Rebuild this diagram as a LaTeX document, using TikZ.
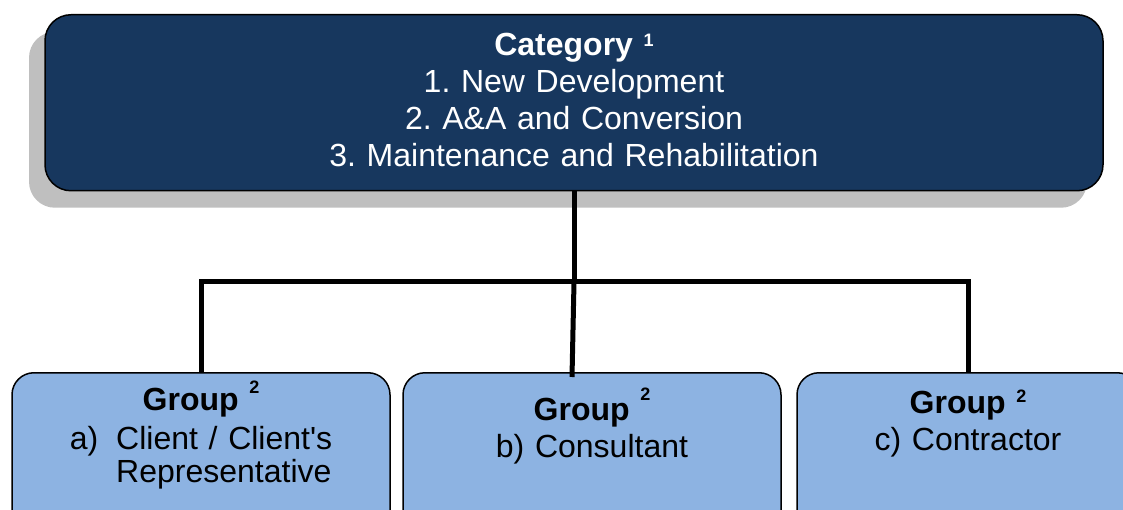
\documentclass[tikz,border=0pt]{standalone}
\usepackage{fontspec}
\setmainfont{Liberation Sans}
\usetikzlibrary{shadows,positioning}
\definecolor{navyblue}{RGB}{23,55,94}
\definecolor{paleblue}{RGB}{141,179,226}
\newcommand{\fnmark}[2][9pt]{\raisebox{#1}{\fontsize{18}{18}\selectfont\bfseries #2}}
\frenchspacing

\begin{document}
\begin{tikzpicture}[x=1pt, y=-1pt, font=\fontsize{32}{37}\selectfont,
    catbox/.style={draw=black, line width=1.5pt, fill=navyblue, text=white, rounded corners=26pt,
        anchor=north, align=center, text width=1058pt, inner xsep=0pt, inner ysep=0pt,
        text height=41pt, text depth=135pt,
        drop shadow={shadow xshift=-16pt, shadow yshift=-17pt, fill=black, opacity=.25}},
    grpbox/.style={draw=black, line width=1.5pt, fill=paleblue, rounded corners=22pt,
        anchor=north, align=center, text width=378pt, inner xsep=0pt, inner ysep=0pt,
        text depth=150pt},
    conn/.style={line width=5pt}]
    \useasboundingbox (0,0) rectangle (1123,510);
    \clip (0,0) rectangle (1123,510);

    \node[catbox] (cat) at (574,14) {{\bfseries Category} \fnmark{1}\\
        1. New Development\\
        2. A\&A and Conversion\\
        3. Maintenance and Rehabilitation};

    \node[grpbox, text height=38pt] (grpa) at (201,372) {{\bfseries Group} \fnmark[17pt]{2}\\[2pt]
        {\renewcommand{\arraystretch}{0.89}%
        \begin{tabular}[t]{@{}l@{\hspace{18pt}}l@{}}a) & Client / Client\textquotesingle s\\
            & Representative\end{tabular}}};
    \node[grpbox, text height=48pt] (grpb) at (592,372) {{\bfseries Group} \fnmark[20pt]{2}\\
        b) Consultant};
    \node[grpbox, text height=41pt, text width=342pt] (grpc) at (968,372) {{\bfseries Group} \fnmark[11pt]{2}\\
        c) Contractor};

    % connectors
    \coordinate (hub)   at (574,282);
    \coordinate (bjoin) at (572,377);
    \draw[conn] (cat.south) -- (hub);
    \draw[conn] (hub) -- (bjoin);
    \draw[conn] (grpa.north) |- (hub) -| (grpc.north);
\end{tikzpicture}
\end{document}
